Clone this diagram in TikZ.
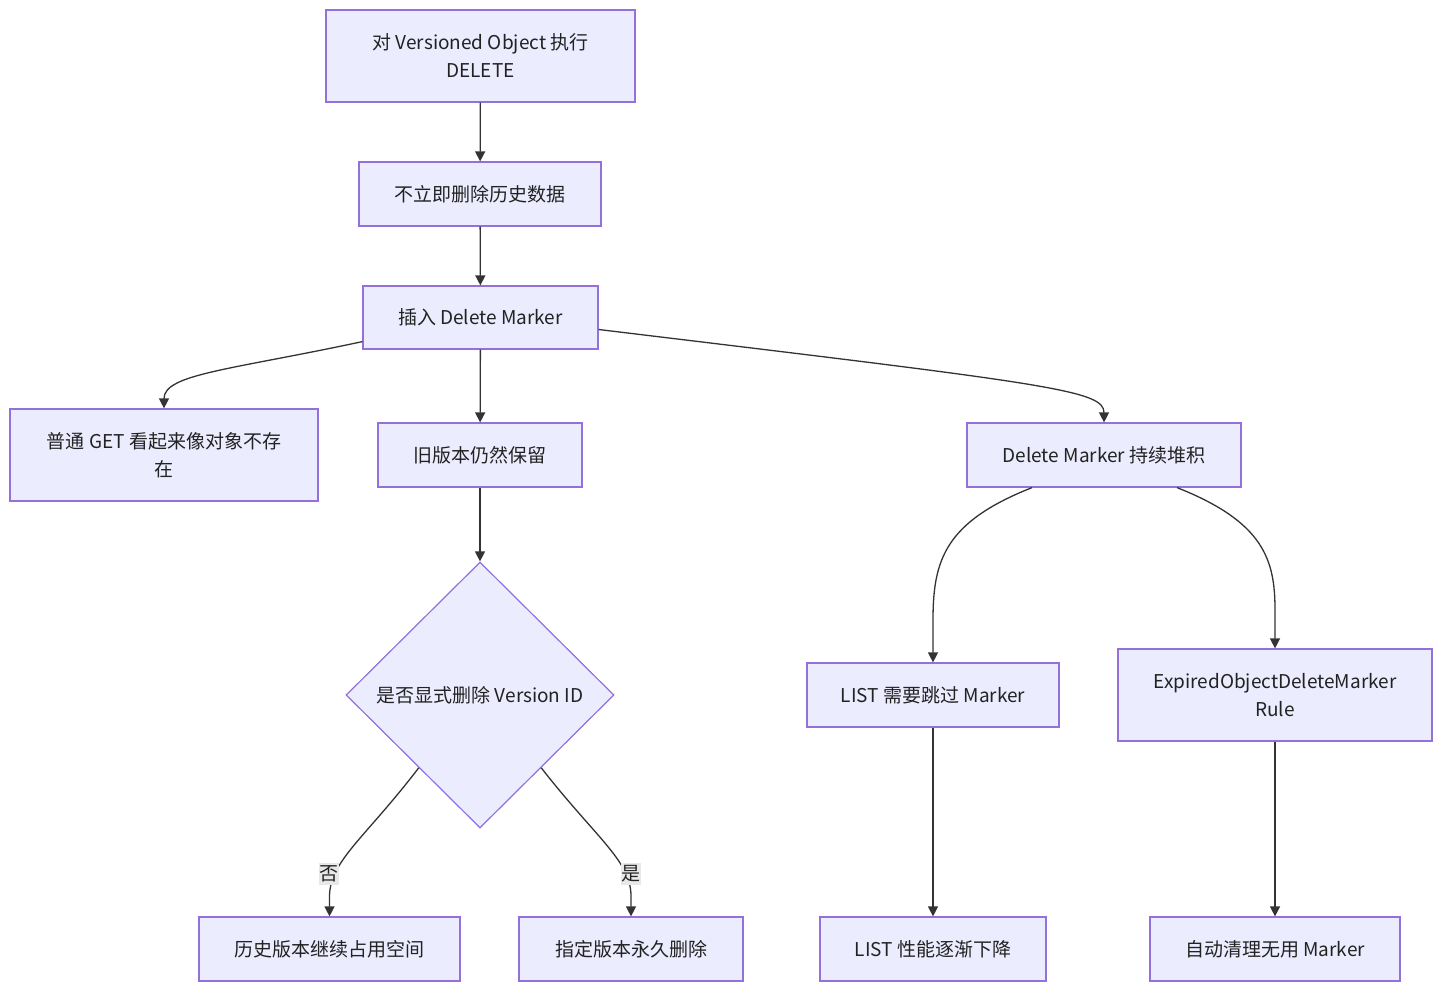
\documentclass[tikz,border=0pt]{standalone}
\usepackage{fontspec}
\setmainfont{Noto Sans CJK SC}
\usetikzlibrary{arrows.meta,shapes.geometric,calc}
\definecolor{mfill}{HTML}{ECECFF}
\definecolor{mstroke}{HTML}{9370DB}
\definecolor{medge}{HTML}{333333}
\definecolor{mtext}{HTML}{222222}
\definecolor{lblbg}{HTML}{E8E8E8}
\begin{document}
\begin{tikzpicture}[x=1pt,y=-1pt,
  box/.style={draw=mstroke, fill=mfill, line width=1.2pt, inner sep=0pt, align=center, text=mtext, font=\fontsize{19}{28}\selectfont},
  dia/.style={box, diamond, aspect=1, minimum width=268pt, minimum height=266pt},
  conn/.style={draw=medge, line width=1.3pt, -{Triangle[length=10pt,width=10pt]}},
  lbl/.style={fill=lblbg, inner xsep=0.5pt, inner ysep=3pt, text=mtext, font=\fontsize{19}{22}\selectfont}]
\useasboundingbox (0,0) rectangle (1456,1003);
\node[box, minimum width=309pt, minimum height=92pt] (A) at (480.5,56) {对 Versioned Object 执行\\DELETE};
\node[box, minimum width=242pt, minimum height=64pt] (B) at (480,194) {不立即删除历史数据};
\node[box, minimum width=235pt, minimum height=63pt] (C) at (480.5,317.5) {插入 Delete Marker};
\node[box, minimum width=308pt, minimum height=92pt] (D) at (164,455) {普通 GET 看起来像对象不存\\在};
\node[box, minimum width=204pt, minimum height=64pt] (E) at (480,455) {旧版本仍然保留};
\node[box, minimum width=274pt, minimum height=64pt] (F) at (1104,455) {Delete Marker 持续堆积};
\node[dia] (G) at (480,695) {是否显式删除 Version ID};
\node[box, minimum width=252pt, minimum height=64pt] (H) at (933,695) {LIST 需要跳过 Marker};
\node[box, minimum width=314pt, minimum height=92pt] (I) at (1275,695) {ExpiredObjectDeleteMarker\\Rule};
\node[box, minimum width=261pt, minimum height=64pt] (J) at (329.5,949) {历史版本继续占用空间};
\node[box, minimum width=224pt, minimum height=64pt] (K) at (631,949) {指定版本永久删除};
\node[box, minimum width=226pt, minimum height=64pt] (L) at (933,949) {LIST 性能逐渐下降};
\node[box, minimum width=250pt, minimum height=64pt] (M) at (1275,949) {自动清理无用 Marker};

\draw[conn] (A) -- (B);
\draw[conn] (B) -- (C);
\draw[conn] (C) -- (E);
\draw[conn] (E) -- (G);
\draw[conn] ([yshift=8pt]C.south west) .. controls (230,370) and (164,374) .. (D.north);
\draw[conn] ([yshift=-12pt]C.east) .. controls (1050,384) and (1104,390) .. (F.north);
\draw[conn] ([xshift=-72pt]F.south) .. controls (945,522) and (933,560) .. (933,620) -- (H.north);
\draw[conn] ([xshift=73pt]F.south) .. controls (1264,522) and (1275,560) .. (1275,610) -- (I.north);
\draw[conn] ($(G.south)!0.455!(G.west)$) .. controls (365,838) and (331,860) .. (329.5,895) -- (J.north);
\draw[conn] ($(G.south)!0.455!(G.east)$) .. controls (596,838) and (630,860) .. (631,895) -- (K.north);
\draw[conn] (H) -- (L);
\draw[conn] (I) -- (M);
\node[lbl] (l1) at (329,874) {否};
\node[lbl] (l2) at (631,874) {是};
\end{tikzpicture}
\end{document}
